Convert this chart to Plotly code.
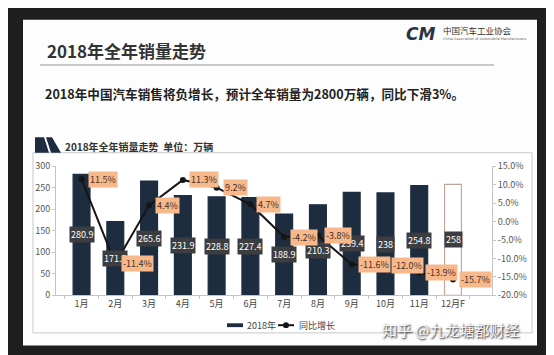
import plotly.graph_objects as go

W, H = 554, 355

months = ["1月", "2月", "3月", "4月", "5月", "6月", "7月", "8月", "9月", "10月", "11月", "12月F"]
sales = [280.9, 171.5, 265.6, 231.9, 228.8, 227.4, 188.9, 210.3, 239.4, 238, 254.8, 258]
growth = [11.5, -11.4, 4.4, 11.3, 9.2, 4.7, -4.2, -3.8, -11.6, -12.0, -13.9, -15.7]
left_ticks = [0, 50, 100, 150, 200, 250, 300]
right_ticks = [-20, -15, -10, -5, 0, 5, 10, 15]

FONT = "Noto Sans CJK SC"
NAVY = "#1e2c40"
BG = "#1f1f1f"


def px(x):
    return x / W


def py(y):
    return 1 - y / H


bar_colors = [NAVY] * (len(months) - 1) + ["#ffffff"]
bar_lines = [NAVY] * (len(months) - 1) + ["#c9a49c"]

fig = go.Figure()
fig.add_trace(go.Bar(
    x=months, y=sales, name="2018年", width=0.5,
    marker=dict(color=bar_colors, line=dict(color=bar_lines, width=1.2)),
    yaxis="y",
))
fig.add_trace(go.Scatter(
    x=months, y=growth, name="同比增长", mode="lines+markers",
    line=dict(color="#151515", width=2),
    marker=dict(symbol="circle", size=6, color="#151515"),
    yaxis="y2",
))

annotations = []
# bar value labels
for m, v in zip(months, sales):
    annotations.append(dict(
        x=m, y=v / 2, xref="x", yref="y", text=f"{v:g}", showarrow=False,
        font=dict(family=FONT, size=9, color="#ffffff"),
        bgcolor="#3b3d40", borderpad=1, xanchor="center", yanchor="middle",
    ))
# growth labels
for m, g in zip(months, growth):
    annotations.append(dict(
        x=m, y=g, xref="x", yref="y2", text=f"{g:.1f}%", showarrow=False,
        font=dict(family=FONT, size=9, color="#4a2e1e"),
        bgcolor="#f7b98c", borderpad=1, xanchor="left", yanchor="middle", xshift=6,
    ))

# slide texts
annotations += [
    dict(x=px(37), y=py(37), xref="paper", yref="paper", text="<b>2018年全年销量走势</b>",
         showarrow=False, xanchor="left", yanchor="middle",
         font=dict(family=FONT, size=17, color="#333333")),
    dict(x=px(35), y=py(82), xref="paper", yref="paper",
         text="<b>2018年中国汽车销售将负增长，预计全年销量为2800万辆，同比下滑3%。</b>",
         showarrow=False, xanchor="left", yanchor="middle",
         font=dict(family=FONT, size=12.6, color="#222222")),
    dict(x=px(396), y=py(20), xref="paper", yref="paper", text="<b><i>CM</i></b>",
         showarrow=False, xanchor="left", yanchor="middle",
         font=dict(family="DejaVu Sans", size=17, color="#2b3346")),
    dict(x=px(433), y=py(16), xref="paper", yref="paper", text="中国汽车工业协会",
         showarrow=False, xanchor="left", yanchor="middle",
         font=dict(family=FONT, size=8.5, color="#333333")),
    dict(x=px(433), y=py(24.5), xref="paper", yref="paper",
         text="China Association of Automobile Manufacturers",
         showarrow=False, xanchor="left", yanchor="middle",
         font=dict(family="DejaVu Sans", size=3.5, color="#666666")),
    dict(x=px(55), y=py(136), xref="paper", yref="paper",
         text="<b>2018年全年销量走势  单位：万辆</b>",
         showarrow=False, xanchor="left", yanchor="middle",
         font=dict(family=FONT, size=10, color="#333333")),
    # legend texts
    dict(x=px(237), y=py(322), xref="paper", yref="paper", text="2018年",
         showarrow=False, xanchor="left", yanchor="middle",
         font=dict(family=FONT, size=9, color="#444444")),
    dict(x=px(289), y=py(322), xref="paper", yref="paper", text="同比增长",
         showarrow=False, xanchor="left", yanchor="middle",
         font=dict(family=FONT, size=9, color="#444444")),
    # watermark
    dict(x=px(372), y=py(326), xref="paper", yref="paper",
         text="知乎 @九龙塘都财经",
         showarrow=False, xanchor="left", yanchor="middle",
         font=dict(family=FONT, size=15, color="rgba(255,255,255,0.92)",
                   shadow="1px 1px 2px #000000")),
]

shapes = [
    # white slide
    dict(type="rect", xref="paper", yref="paper", x0=px(15), x1=px(529), y0=py(343), y1=py(5),
         fillcolor="#fdfdfd", line=dict(width=0), layer="below"),
    # title underline
    dict(type="line", xref="paper", yref="paper", x0=px(32), x1=px(486), y0=py(52), y1=py(52),
         line=dict(color="#b8b8b8", width=1.5), layer="below"),
    # chart box
    dict(type="rect", xref="paper", yref="paper", x0=px(25), x1=px(524), y0=py(330), y1=py(143),
         fillcolor="#ffffff", line=dict(color="#c8c8c8", width=1), layer="below"),
    # header icon
    dict(type="path", xref="paper", yref="paper",
         path=f"M {px(27)} {py(143)} L {px(27)} {py(127)} L {px(36)} {py(127)} L {px(41)} {py(143)} Z",
         fillcolor=NAVY, line=dict(width=0), layer="below"),
    dict(type="path", xref="paper", yref="paper",
         path=f"M {px(38)} {py(127)} L {px(44)} {py(127)} L {px(53)} {py(143)} L {px(43)} {py(143)} Z",
         fillcolor=NAVY, line=dict(width=0), layer="below"),
    # legend symbols
    dict(type="rect", xref="paper", yref="paper", x0=px(219), x1=px(235), y0=py(324), y1=py(320),
         fillcolor=NAVY, line=dict(width=0)),
    dict(type="line", xref="paper", yref="paper", x0=px(270), x1=px(286), y0=py(322), y1=py(322),
         line=dict(color="#151515", width=2)),
    dict(type="circle", xref="paper", yref="paper", x0=px(275), x1=px(281), y0=py(325), y1=py(319),
         fillcolor="#151515", line=dict(width=0)),
]

fig.update_layout(
    width=W, height=H, autosize=False,
    margin=dict(l=0, r=0, t=0, b=0),
    paper_bgcolor=BG, plot_bgcolor="rgba(0,0,0,0)",
    font=dict(family=FONT, size=9, color="#555555"),
    bargap=0.5,
    showlegend=False,
    xaxis=dict(domain=[px(48), px(484)], showgrid=False, showline=True, linecolor="#c4c4c4",
               ticks="outside", tickson="boundaries", ticklen=3, tickcolor="#c4c4c4",
               tickfont=dict(family=FONT, size=9, color="#444444"), fixedrange=True),
    yaxis=dict(domain=[py(291), py(157)], range=[0, 300], tickvals=left_ticks,
               showgrid=False, zeroline=False, showline=True, linecolor="#c4c4c4",
               ticks="outside", ticklen=3, tickcolor="#c4c4c4",
               tickfont=dict(family=FONT, size=9, color="#555555")),
    yaxis2=dict(overlaying="y", side="right", range=[-20, 15], tickvals=right_ticks,
                ticktext=[f"{t:.1f}%" for t in right_ticks],
                showgrid=False, zeroline=False, showline=True, linecolor="#c4c4c4",
                ticks="outside", ticklen=3, tickcolor="#c4c4c4",
                tickfont=dict(family=FONT, size=9, color="#555555")),
    annotations=annotations,
    shapes=shapes,
)

fig.write_html("out.html")
